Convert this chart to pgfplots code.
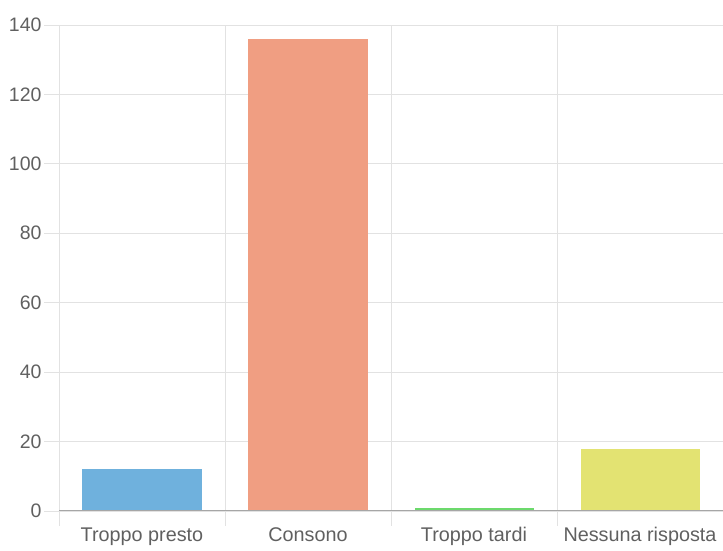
\documentclass[border=0pt]{standalone}
\usepackage{pgfplots}
\pgfplotsset{compat=1.18}
\usepackage{fontspec}
\setmainfont{Liberation Sans}
\definecolor{cblue}{HTML}{6FB1DD}
\definecolor{corange}{HTML}{F09E82}
\definecolor{cgreen}{HTML}{6CD96C}
\definecolor{cyellow}{HTML}{E3E372}
\definecolor{grid}{HTML}{E2E2E2}
\definecolor{txt}{HTML}{606060}
\begin{document}
\begin{tikzpicture}
\begin{axis}[
  at={(0,0)}, anchor=south west,
  scale only axis, width=664pt, height=486pt,
  xmin=-0.5, xmax=3.5, ymin=0, ymax=140,
  axis line style={draw=none},
  xtick pos=bottom, ytick pos=left,
  xtick={-0.5,0.5,1.5,2.5,3.5},
  xticklabels={},
  extra x ticks={0,1,2,3},
  extra x tick labels={Troppo presto,Consono,Troppo tardi,Nessuna risposta},
  extra x tick style={major tick length=0pt, grid=none},
  ytick={0,20,...,140},
  xmajorgrids, ymajorgrids,
  grid style={draw=grid, line width=0.9pt},
  tick style={draw=grid, line width=0.9pt},
  tick align=outside,
  major tick length=15pt,
  x tick label style={font=\fontsize{19.8}{22}\selectfont, text=txt, yshift=-13pt},
  y tick label style={font=\fontsize{19.5}{22}\selectfont, text=txt, xshift=1pt},
  /pgf/number format/assume math mode=true,
  ybar, bar width=119pt, bar shift=0pt,
]
\addplot[fill=cblue, draw=none] coordinates {(0,12)};
\addplot[fill=corange, draw=none] coordinates {(1,136)};
\addplot[fill=cgreen, draw=none] coordinates {(2,1)};
\addplot[fill=cyellow, draw=none] coordinates {(3,18)};
\draw[draw=gray!70, line width=1pt] (axis cs:-0.5,0) -- (axis cs:3.5,0);
\end{axis}
\pgfresetboundingbox
\useasboundingbox (-59pt,-40pt) rectangle (664pt,511pt);
\end{tikzpicture}
\end{document}
